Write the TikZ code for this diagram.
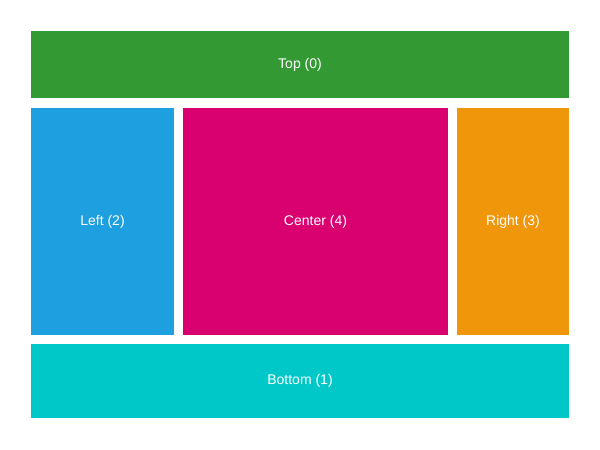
\documentclass[tikz,border=0pt]{standalone}
\usepackage{fontspec}
\setmainfont{Liberation Sans}
\definecolor{cgreen}{HTML}{339933}
\definecolor{cblue}{HTML}{1E9FE0}
\definecolor{cmag}{HTML}{D90070}
\definecolor{corange}{HTML}{F0960A}
\definecolor{ccyan}{HTML}{00C8C8}
\begin{document}
\begin{tikzpicture}[x=1pt,y=-1pt,
  panel/.style={fill=#1,draw=none,text=white,font=\fontsize{14}{16}\selectfont}]
\useasboundingbox (0,0) rectangle (600,450);
\fill[white] (0,0) rectangle (600,450);
\fill[cgreen] (31,31) rectangle (569,98);
\node[text=white,font=\fontsize{14}{16}\selectfont] (top) at (300,64.5) {Top (0)};
\fill[cblue] (31,108) rectangle (174,335);
\node[text=white,font=\fontsize{14}{16}\selectfont] (left) at (102.5,221.5) {Left (2)};
\fill[cmag] (183,108) rectangle (448,335);
\node[text=white,font=\fontsize{14}{16}\selectfont] (center) at (315.5,221.5) {Center (4)};
\fill[corange] (457,108) rectangle (569,335);
\node[text=white,font=\fontsize{14}{16}\selectfont] (right) at (513,221.5) {Right (3)};
\fill[ccyan] (31,344) rectangle (569,418);
\node[text=white,font=\fontsize{14}{16}\selectfont] (bottom) at (300,381) {Bottom (1)};
\end{tikzpicture}
\end{document}
